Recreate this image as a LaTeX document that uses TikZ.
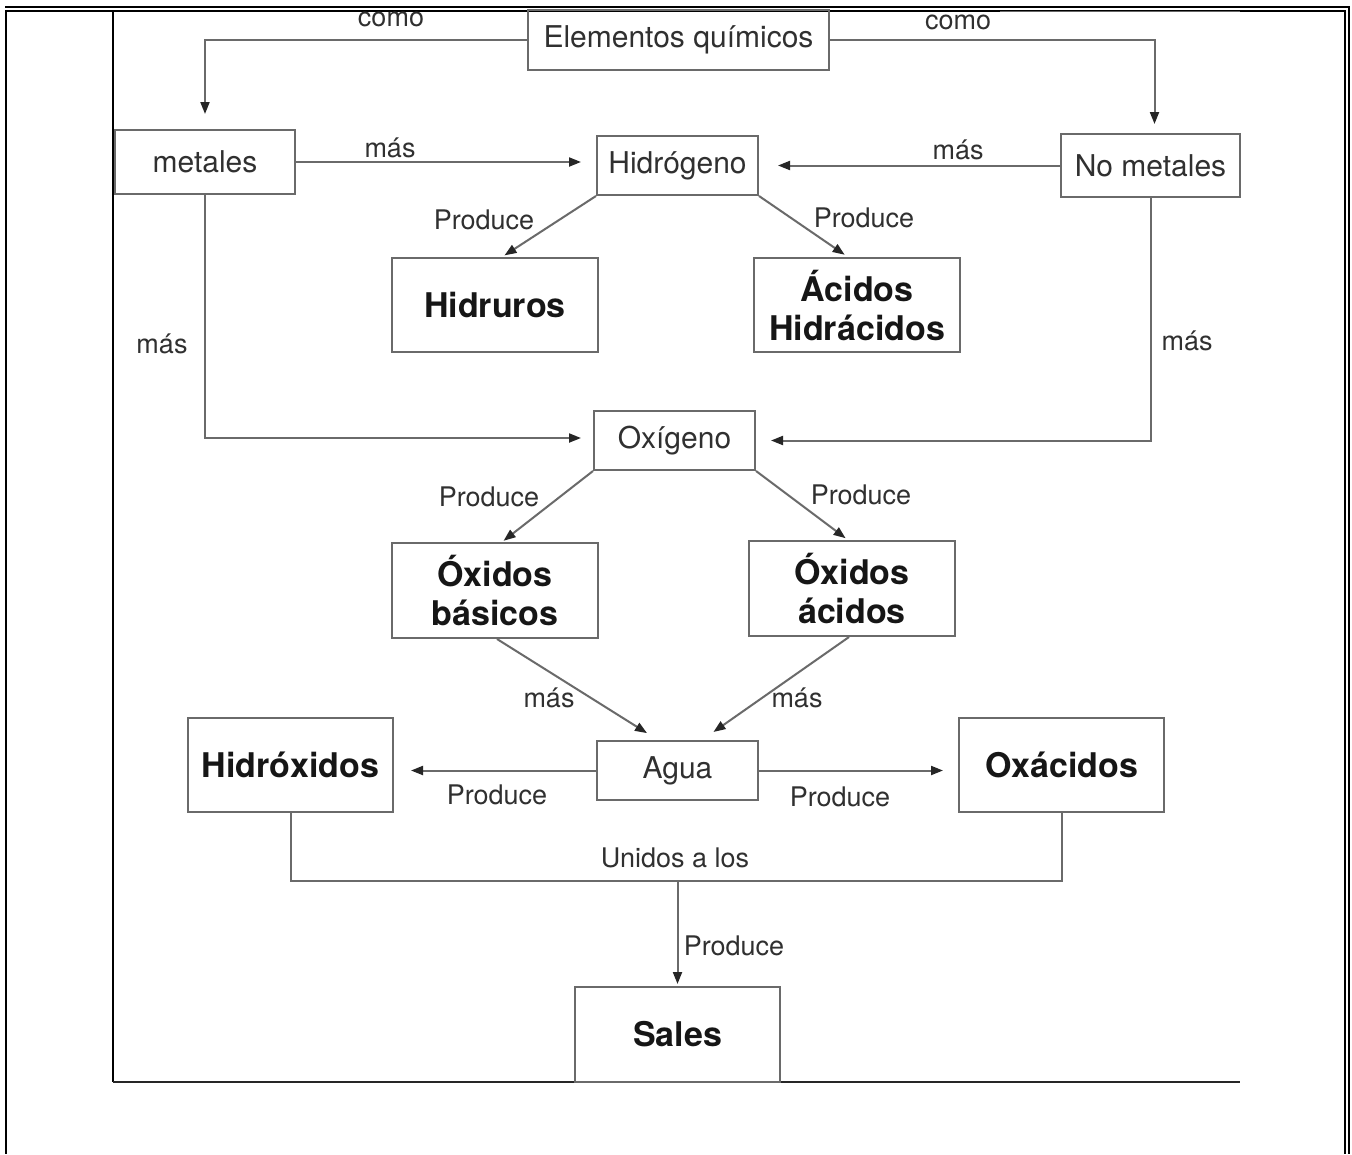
\documentclass[tikz,border=0pt]{standalone}
\usepackage{fontspec}
\setmainfont{TeX Gyre Heros}
\usetikzlibrary{arrows.meta,calc}
\definecolor{linegray}{HTML}{6A6A6A}
\definecolor{txtgray}{HTML}{303030}
\definecolor{boldtxt}{HTML}{161616}
\begin{document}
\begin{tikzpicture}[x=1pt,y=-1pt,
  box/.style={draw=linegray,line width=2pt,rectangle,inner sep=0pt,align=center,text=txtgray,font=\fontsize{30}{34}\selectfont},
  bigbox/.style={box,text=boldtxt,font=\fontsize{34}{39}\selectfont\bfseries},
  lbl/.style={text=txtgray,font=\fontsize{27}{30}\selectfont,inner sep=0pt},
  conn/.style={draw=linegray,line width=2pt},
  arr/.style={conn,-{Triangle[length=12pt,width=9pt,color=black!85]}},
  frame/.style={draw=black,line width=2pt}
]
\useasboundingbox (0,0) rectangle (1352,1154);
\fill[white] (0,0) rectangle (1352,1154);

% page frame
\draw[frame,line width=2.2pt] (5,7) -- (1350,7);
\draw[frame] (5,10.5) -- (1345,10.5);
\draw[frame] (6,10) -- (6,1154);
\draw[frame] (1345,10) -- (1345,1154);
\draw[frame] (1349,6) -- (1349,1154);
% picture edges
\draw[black,line width=1.4pt] (113,10) -- (113,1082);
\draw[black!85,line width=2.4pt] (113,1082) -- (1240,1082);
\draw[black!60,line width=1pt] (1000,11.5) -- (1240,11.5);

% nodes
\node[box,minimum width=301pt,minimum height=60pt] (elem) at (678.5,40) {Elementos químicos};
\node[box,minimum width=180pt,minimum height=64pt] (met) at (205,162) {metales};
\node[box,minimum width=161pt,minimum height=59pt] (hidro) at (677.5,165.5) {Hidrógeno};
\node[box,minimum width=179pt,minimum height=63pt] (nomet) at (1150.5,165.5) {No metales};
\node[bigbox,minimum width=206pt,minimum height=94pt] (hidru) at (495,305) {Hidruros};
\node[bigbox,minimum width=206pt,minimum height=94pt] (acid) at (857,305) {Ácidos\\Hidrácidos};
\node[box,minimum width=161pt,minimum height=59pt] (oxi) at (674.5,440.5) {Oxígeno};
\node[bigbox,minimum width=206pt,minimum height=95pt] (oxb) at (495,590.5) {Óxidos\\básicos};
\node[bigbox,minimum width=206pt,minimum height=95pt] (oxa) at (852,588.5) {Óxidos\\ácidos};
\node[box,minimum width=161pt,minimum height=59pt] (agua) at (677.5,770.5) {Agua};
\node[bigbox,minimum width=205pt,minimum height=94pt] (hidrox) at (290.5,765) {Hidróxidos};
\node[bigbox,minimum width=205pt,minimum height=94pt] (oxac) at (1061.5,765) {Oxácidos};
\node[bigbox,minimum width=205pt,minimum height=95pt] (sales) at (677.5,1034.5) {Sales};
\coordinate (join) at ($(sales.north)+(0,-105)$);

% labels
\node[lbl] (l1) at (391,19) {como};
\node[lbl] (l2) at (958,22) {como};
\node[lbl] (l3) at (390,148) {más};
\node[lbl] (l4) at (958,150) {más};
\node[lbl] (l5) at (484,220) {Produce};
\node[lbl] (l6) at (864,218) {Produce};
\node[lbl] (l7) at (162,344) {más};
\node[lbl] (l8) at (1187,341) {más};
\node[lbl] (l9) at (489,497) {Produce};
\node[lbl] (l10) at (861,495) {Produce};
\node[lbl] (l11) at (549,698) {más};
\node[lbl] (l12) at (797,698) {más};
\node[lbl] (l13) at (497,795) {Produce};
\node[lbl] (l14) at (840,797) {Produce};
\node[lbl] (l15) at (675,858) {Unidos a los};
\node[lbl] (l16) at (734,946) {Produce};

% connectors
\draw[arr,shorten >=15pt] (elem.west) -| (met.north);
\draw[arr,shorten >=9pt] (elem.east) -| ([xshift=4pt]nomet.north);
\draw[arr,shorten >=15pt] (met.east) -- (met.east -| hidro.west);
\draw[arr,shorten >=19pt] (nomet.west) -- (nomet.west -| hidro.east);
\draw[arr,shorten >=3pt] (hidro.south west) -- ([xshift=7pt]hidru.north);
\draw[arr,shorten >=4pt] (hidro.south east) -- ([xshift=-9pt]acid.north);
\draw[arr,shorten >=12pt] (met.south) |- ([yshift=2.5pt]oxi.west);
\draw[arr,shorten >=15pt] (nomet.south) |- (oxi.east);
\draw[arr,shorten >=2pt] (oxi.south west) -- ([xshift=7pt]oxb.north);
\draw[arr,shorten >=3pt] (oxi.south east) -- ([xshift=-4pt]oxa.north);
\draw[arr,shorten >=13pt] ([xshift=2pt]oxb.south) -- ([xshift=-19.5pt]agua.north);
\draw[arr,shorten >=14pt] ([xshift=-3pt]oxa.south) -- ([xshift=24.5pt]agua.north);
\draw[arr,shorten >=17pt] (agua.west) -- (agua.west -| hidrox.east);
\draw[arr,shorten >=15pt] (agua.east) -- (agua.east -| oxac.west);
\draw[conn] (hidrox.south) |- (join) -| (oxac.south);
\draw[arr,shorten >=2pt] (join) -- (sales.north);
\end{tikzpicture}
\end{document}
